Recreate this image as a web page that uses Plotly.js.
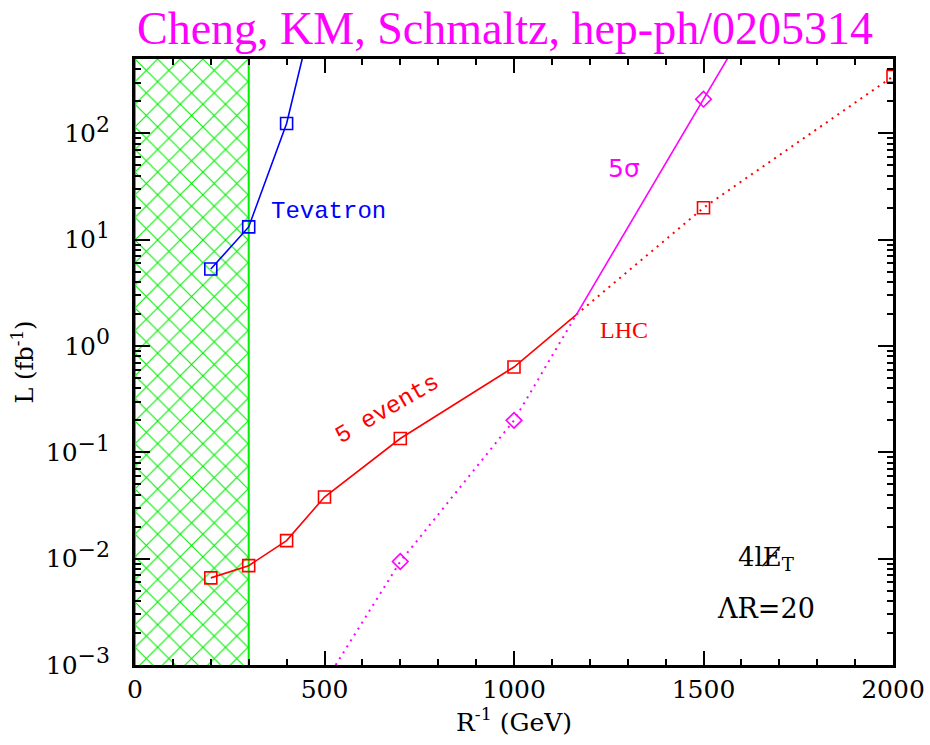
<!DOCTYPE html>
<html><head><meta charset="utf-8">
<script src="https://cdn.plot.ly/plotly-3.0.1.min.js"></script>
<style>body{margin:0;background:#fff}#plot{width:930px;height:745px}</style>
</head><body><div id="plot"></div>
<script>
// Tevatron (blue)
const tevX = [200, 300, 400, 500];
const tevY = [5.3, 13.2, 124, 3700];
// LHC 5 events (red)
const lhcX = [200, 300, 400, 500, 700, 1000, 1500, 2000];
const lhcY = [0.0066, 0.0086, 0.0148, 0.038, 0.135, 0.635, 20, 344];
// LHC 5 sigma (magenta)
const sigX = [500, 700, 1000, 1500, 2000];
const sigY = [0.00068, 0.0094, 0.20, 210, 220000];
const sigMarkX = [700, 1000, 1500];
const sigMarkY = [0.0094, 0.20, 210];
// excluded region
const exclX = [0, 300];
const yTickVals = [1e-3, 1e-2, 1e-1, 1, 10, 100];
const yTickExp = ['−3', '−2', '−1', '0', '1', '2'];
const yTickText = yTickExp.map(e => '10<sup><span style="font-size:22px">' + e + '</span></sup>');

// crossing of red and magenta between 1000 and 1500 (log space)
function crossing(){
  const i = lhcX.indexOf(1000), j = lhcX.indexOf(1500);
  const a = sigX.indexOf(1000), b = sigX.indexOf(1500);
  const r0 = Math.log10(lhcY[i]), r1 = Math.log10(lhcY[j]);
  const m0 = Math.log10(sigY[a]), m1 = Math.log10(sigY[b]);
  const t = (r0 - m0) / ((m1 - m0) - (r1 - r0));
  const x = lhcX[i] + t * (lhcX[j] - lhcX[i]);
  return [x, Math.pow(10, r0 + t * (r1 - r0))];
}
const cr = crossing();
const redSolidX = lhcX.filter(v => v <= 1000).concat([cr[0]]);
const redSolidY = lhcY.filter((v, k) => lhcX[k] <= 1000).concat([cr[1]]);
const redDotX = [cr[0]].concat(lhcX.filter(v => v > 1000));
const redDotY = [cr[1]].concat(lhcY.filter((v, k) => lhcX[k] > 1000));
const sigDotX = sigX.filter(v => v <= 1000).concat([cr[0]]);
const sigDotY = sigY.filter((v, k) => sigX[k] <= 1000).concat([cr[1]]);
const sigSolX = [cr[0]].concat(sigX.filter(v => v > 1000));
const sigSolY = [cr[1]].concat(sigY.filter((v, k) => sigX[k] > 1000));

const RED = '#ff0000', BLUE = '#0000ff', MAG = '#ff00ff', GREEN = '#00ee00';
const sq = (c) => ({symbol: 'square-open', size: 12, color: c, line: {width: 1.6, color: c}});
const DOTS = '2px,5px';
const YRANGE = [-3, 2.7];

const traces = [
  {x: [exclX[0], exclX[1], exclX[1], exclX[0], exclX[0]], y: [1e-6, 1e-6, 1e6, 1e6, 1e-6],
   mode: 'lines', fill: 'toself', fillcolor: 'white',
   fillpattern: {shape: 'x', fgcolor: GREEN, bgcolor: 'white', size: 16, solidity: 0.13},
   line: {color: GREEN, width: 2}, hoverinfo: 'skip'},
  {x: tevX, y: tevY, mode: 'lines+markers', line: {color: BLUE, width: 1.6}, marker: sq(BLUE)},
  {x: redSolidX, y: redSolidY, mode: 'lines', line: {color: RED, width: 1.6}},
  {x: redDotX, y: redDotY, mode: 'lines', line: {color: RED, width: 2, dash: DOTS}},
  {x: lhcX, y: lhcY, mode: 'markers', marker: sq(RED)},
  {x: sigDotX, y: sigDotY, mode: 'lines', line: {color: MAG, width: 2, dash: DOTS}},
  {x: sigSolX, y: sigSolY, mode: 'lines', line: {color: MAG, width: 1.6}},
  {x: sigMarkX, y: sigMarkY, mode: 'markers',
   marker: {symbol: 'diamond-open', size: 12, color: MAG, line: {width: 1.6, color: MAG}}},
  // carrier for the label axis
  {x: [tevX[0]], y: [tevY[0]], yaxis: 'y2', mode: 'markers', marker: {opacity: 0}, hoverinfo: 'skip'}
];

const tickFont = {family: 'DejaVu Serif', size: 25, color: '#000'};
const layout = {
  width: 930, height: 745,
  margin: {l: 110, r: 37, t: 59, b: 80},
  showlegend: false,
  font: {family: 'DejaVu Serif'},
  paper_bgcolor: 'white', plot_bgcolor: 'white',
  title: {text: 'Cheng, KM, Schmaltz, hep-ph/0205314',
          font: {family: 'Liberation Serif', size: 46, color: MAG},
          x: 0.543, xanchor: 'center', yref: 'container', y: 0.962, yanchor: 'middle'},
  xaxis: {domain: [25 / 783, 1], range: [0, 2000], dtick: 500, tick0: 0, showgrid: false, zeroline: false,
          showline: true, linewidth: 3, linecolor: '#000', mirror: 'ticks',
          ticks: 'inside', ticklen: 14, tickwidth: 2, tickcolor: '#000', tickfont: tickFont,
          minor: {dtick: 100, ticks: 'inside', ticklen: 6, tickwidth: 2, tickcolor: '#000', showgrid: false},
          title: {text: 'R<sup>-1</sup> (GeV)', font: {family: 'DejaVu Serif', size: 25, color: '#000'}, standoff: 2}},
  yaxis: {type: 'log', range: YRANGE, tickvals: yTickVals, showticklabels: false,
          showgrid: false, zeroline: false,
          showline: true, linewidth: 3, linecolor: '#000', mirror: 'ticks',
          ticks: 'inside', ticklen: 15, tickwidth: 2, tickcolor: '#000',
          minor: {dtick: 'D1', ticks: 'inside', ticklen: 6, tickwidth: 2, tickcolor: '#000', showgrid: false}},
  yaxis2: {type: 'log', range: YRANGE, overlaying: 'y', anchor: 'free', position: 0, side: 'left',
          tickvals: yTickVals, ticktext: yTickText, tickfont: tickFont,
          showgrid: false, zeroline: false, showline: false, ticks: '',
          title: {text: 'L (fb<sup>-1</sup>)', font: {family: 'DejaVu Serif', size: 24, color: '#000'}, standoff: 4}},
  annotations: [
    {x: 510, y: 1.263, xref: 'x', yref: 'y', text: 'Tevatron', showarrow: false,
     font: {family: 'Liberation Mono', size: 24, color: BLUE}},
    {x: 1290, y: 1.667, xref: 'x', yref: 'y', text: '5σ', showarrow: false,
     font: {family: 'DejaVu Sans', size: 25, color: MAG}},
    {x: 1290, y: 0.15, xref: 'x', yref: 'y', text: 'LHC', showarrow: false,
     font: {family: 'Liberation Serif', size: 24, color: RED}},
    {x: 665, y: -0.60, xref: 'x', yref: 'y', text: '5 events', showarrow: false, textangle: -30,
     font: {family: 'Liberation Mono', size: 24, color: RED}},
    {x: 1665, y: -2.0, xref: 'x', yref: 'y', text: '4lE̸<sub>T</sub>', showarrow: false,
     font: {family: 'DejaVu Serif', size: 26, color: '#000'}},
    {x: 1665, y: -2.47, xref: 'x', yref: 'y', text: 'ΛR=20', showarrow: false,
     font: {family: 'DejaVu Serif', size: 27, color: '#000'}}
  ]
};
Plotly.newPlot('plot', traces, layout, {displayModeBar: false, staticPlot: true});
</script></body></html>
